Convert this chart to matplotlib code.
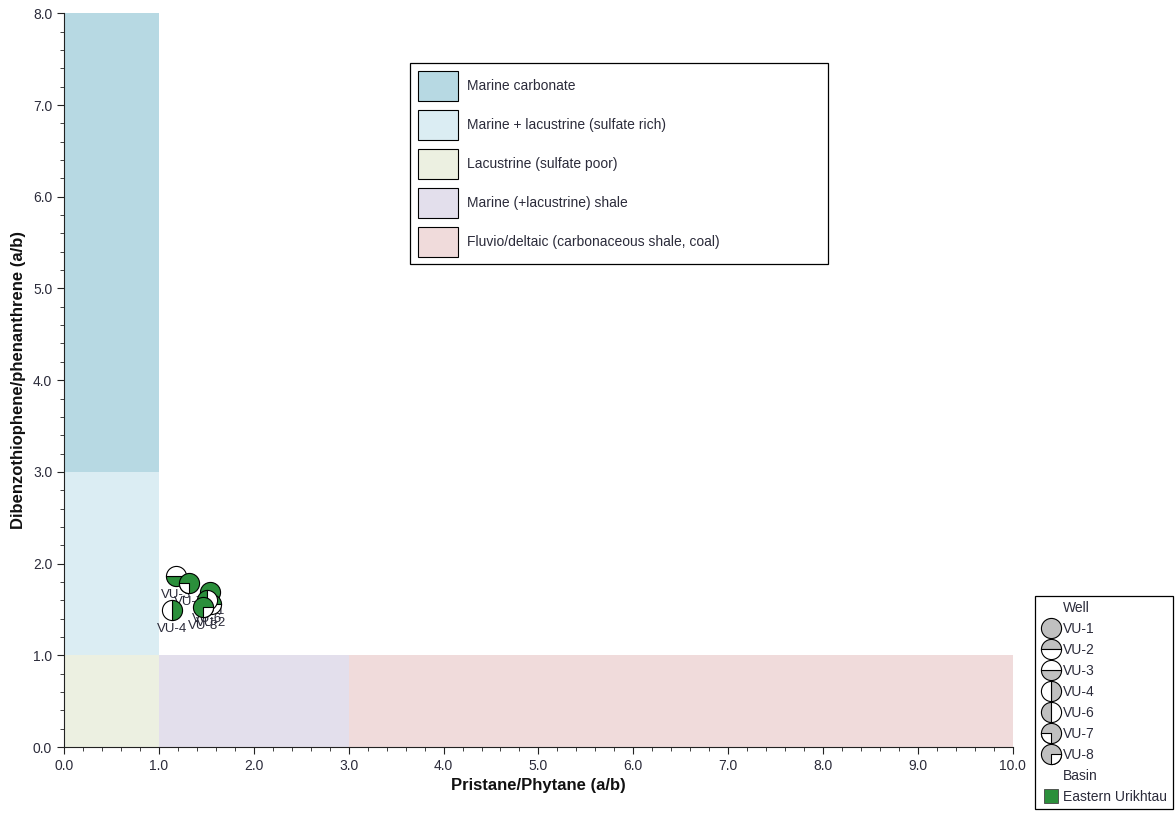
import matplotlib.pyplot as plt
from matplotlib.axes import Axes
from matplotlib.lines import Line2D
from matplotlib.patches import Patch, Rectangle
from matplotlib.path import Path
from matplotlib.ticker import MultipleLocator, FormatStrFormatter

plt.rcParams['font.family'] = ['Liberation Sans', 'DejaVu Sans']

# environment fields
zone_names = [
    "Marine carbonate",
    "Marine + lacustrine (sulfate rich)",
    "Lacustrine (sulfate poor)",
    "Marine (+lacustrine) shale",
    "Fluvio/deltaic (carbonaceous shale, coal)",
]
zone_x = [(0, 1), (0, 1), (0, 1), (1, 3), (3, 10)]
zone_y = [(3, 8), (1, 3), (0, 1), (0, 1), (0, 1)]
zone_colors = ["#B7D9E3", "#DBEDF3", "#ECF0E1", "#E3DFEC", "#F0DBDB"]

# samples
wells = ["VU-1", "VU-2", "VU-3", "VU-4", "VU-6", "VU-7", "VU-8"]
pr_ph = [1.54, 1.55, 1.18, 1.14, 1.51, 1.32, 1.46]
dbt_phen = [1.69, 1.56, 1.87, 1.49, 1.60, 1.79, 1.53]
basin = "Eastern Urikhtau"
basin_color = "#2B8F3B"

# marker style per well: (fillstyle, white part)
well_style = {
    "VU-1": ("full", None),
    "VU-2": ("top", "alt"),
    "VU-3": ("bottom", "alt"),
    "VU-4": ("right", "alt"),
    "VU-6": ("left", "alt"),
    "VU-7": ("full", (180, 270)),
    "VU-8": ("full", (270, 360)),
}

MS = 14.5
TXT = "#2b2b3a"


def well_handles(name, face, ax=None, x=None, y=None):
    fill, white = well_style[name]
    alt = "white" if white == "alt" else face
    kw = dict(marker="o", markersize=MS, markerfacecolor=face,
              markerfacecoloralt=alt, fillstyle=fill,
              markeredgecolor="black", markeredgewidth=0.8,
              linestyle="none")
    quarter = isinstance(white, tuple)
    if quarter:
        qkw = dict(marker=Path.wedge(*white), markersize=MS,
                   markerfacecolor="white", markeredgecolor="black",
                   markeredgewidth=0.8, linestyle="none")
    if ax is None:
        h = Line2D([], [], **kw)
        if quarter:
            return (h, Line2D([], [], **qkw))
        return h
    ax.plot([x], [y], zorder=4, **kw)
    if quarter:
        ax.plot([x], [y], zorder=4, **qkw)


def plot_source_diagram(ax: Axes | None = None) -> Axes:
    if ax is None:
        ax = plt.subplots(figsize=(11.75, 8.31))[1]

    for (x0, x1), (y0, y1), c in zip(zone_x, zone_y, zone_colors):
        ax.add_patch(Rectangle((x0, y0), x1 - x0, y1 - y0,
                               facecolor=c, edgecolor="none", zorder=0))

    for name, x, y in zip(wells, pr_ph, dbt_phen):
        well_handles(name, basin_color, ax, x, y)
        ax.annotate(name, (x, y), xytext=(0, -19),
                    textcoords="offset pixels", ha="center", va="center",
                    fontsize=9.5, color=TXT, zorder=3)

    ax.set_xlim(0, 10)
    ax.set_ylim(0, 8)
    ax.xaxis.set_major_locator(MultipleLocator(1))
    ax.xaxis.set_minor_locator(MultipleLocator(0.2))
    ax.yaxis.set_major_locator(MultipleLocator(1))
    ax.yaxis.set_minor_locator(MultipleLocator(0.2))
    ax.xaxis.set_major_formatter(FormatStrFormatter("%.1f"))
    ax.yaxis.set_major_formatter(FormatStrFormatter("%.1f"))
    ax.tick_params(which="major", length=5, labelsize=10, colors="#222",
                   labelcolor=TXT)
    ax.tick_params(which="minor", length=3, colors="#222")
    for s in ("top", "right"):
        ax.spines[s].set_visible(False)
    for s in ("left", "bottom"):
        ax.spines[s].set_color("#222")

    ax.set_xlabel("Pristane/Phytane (a/b)", fontsize=12,
                  fontweight="bold", color="#111", labelpad=4)
    ax.set_ylabel("Dibenzothiophene/phenanthrene (a/b)", fontsize=12,
                  fontweight="bold", color="#111", labelpad=5)

    zone_patches = [Patch(facecolor=c, edgecolor="black", linewidth=0.8)
                    for c in zone_colors]
    leg = ax.legend(zone_patches, zone_names, loc="upper left",
                    bbox_to_anchor=(0.365, 0.5, 0.4405, 0.432),
                    mode="expand", fontsize=10, handlelength=2.88,
                    handleheight=2.94, labelspacing=0.65, handletextpad=0.63,
                    borderpad=0.54, borderaxespad=0, fancybox=False,
                    edgecolor="black", framealpha=1, labelcolor=TXT)
    leg.get_frame().set_linewidth(0.9)
    return ax


def main():
    fig = plt.figure(figsize=(11.75, 8.31), dpi=100)
    ax = fig.add_axes([0.0545, 0.101, 0.8075, 0.883])
    plot_source_diagram(ax)

    blank = Line2D([], [], linestyle="none")
    handles = [blank] + [well_handles(n, "#C0C0C0") for n in wells]
    labels = ["Well"] + list(wells)
    handles += [blank,
                Line2D([], [], marker="s", markersize=10,
                       markerfacecolor=basin_color, markeredgecolor="#444",
                       markeredgewidth=0.6, linestyle="none")]
    labels += ["Basin", basin]
    leg = fig.legend(handles, labels, loc="upper left",
                     bbox_to_anchor=(0.881, 0.283), fontsize=10,
                     handlelength=1.45, handletextpad=0.15,
                     labelspacing=0.5, borderpad=0.4, fancybox=False,
                     edgecolor="black", framealpha=1, labelcolor=TXT,
                     borderaxespad=0)
    leg.get_frame().set_linewidth(0.9)

    fig.savefig("out.png", dpi=100)


if __name__ == "__main__":
    main()
